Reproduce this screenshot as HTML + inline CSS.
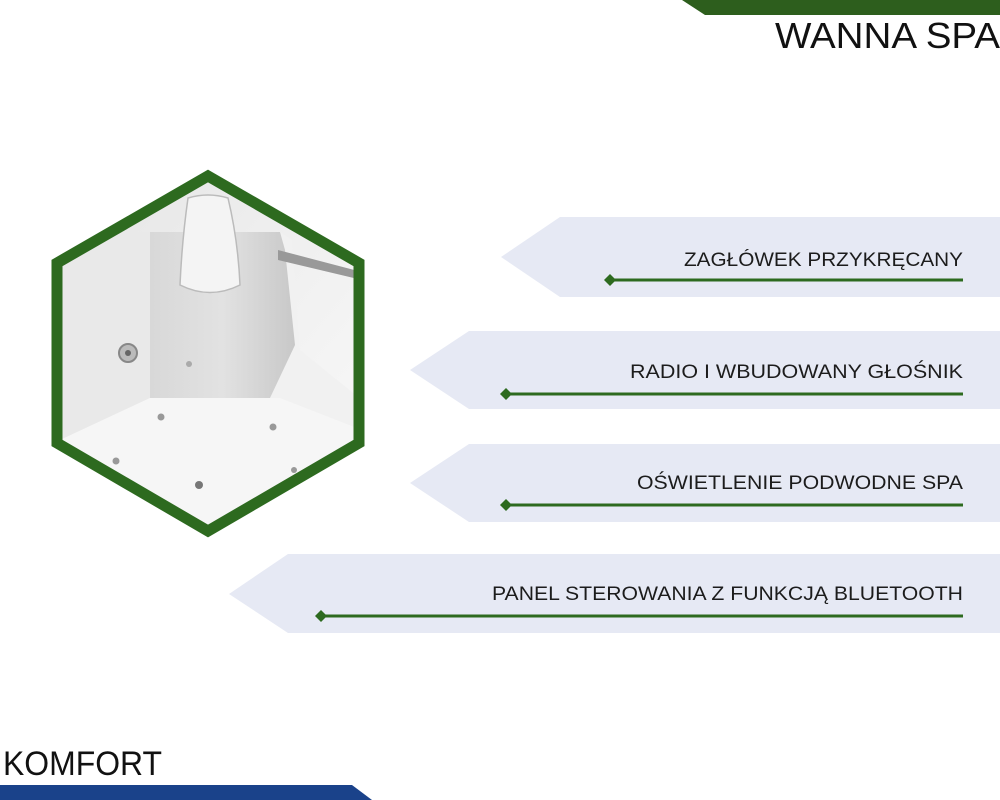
<!DOCTYPE html>
<html><head><meta charset="utf-8"><style>
html,body{margin:0;padding:0;background:#fff;width:1000px;height:800px;overflow:hidden}
text{font-family:"Liberation Sans",sans-serif}
</style></head><body>
<svg width="1000" height="800" viewBox="0 0 1000 800" xmlns="http://www.w3.org/2000/svg">
<defs>
<clipPath id="hx"><polygon points="208,176 359,263 359,443 208,531 57,443 57,263"/></clipPath>
<linearGradient id="bg" x1="0" y1="0" x2="1" y2="1">
<stop offset="0" stop-color="#e4e4e4"/><stop offset="0.5" stop-color="#f0f0f0"/><stop offset="1" stop-color="#fafafa"/></linearGradient>
<linearGradient id="back" x1="0" y1="0" x2="1" y2="0">
<stop offset="0" stop-color="#d8d8d8"/><stop offset="0.5" stop-color="#e2e2e2"/><stop offset="1" stop-color="#c8c8c8"/></linearGradient>
</defs>
<!-- top bar -->
<polygon points="682,0 1000,0 1000,15 705,15" fill="#2d5e1d"/>
<text x="1000" y="48" font-size="36" text-anchor="end" textLength="225" lengthAdjust="spacingAndGlyphs" fill="#111">WANNA SPA</text>
<!-- bottom bar -->
<polygon points="0,785 352,785 372,800 0,800" fill="#1a428a"/>
<text x="3" y="775" font-size="34" textLength="159" lengthAdjust="spacingAndGlyphs" fill="#111">KOMFORT</text>
<!-- hexagon image -->
<g clip-path="url(#hx)">
<rect x="50" y="170" width="320" height="370" fill="url(#bg)"/>
<polygon points="120,232 280,232 292,240 300,350 362,400 362,540 50,540 50,330" fill="#f1f1f1"/>
<polygon points="150,232 280,232 285,250 295,345 270,398 150,398" fill="url(#back)"/>
<polygon points="60,232 150,232 150,398 60,440" fill="#e9e9e9"/>
<polygon points="150,398 280,398 362,430 362,540 60,540 60,440" fill="#f6f6f6"/>
<path d="M188,198 Q208,192 228,198 Q238,240 240,285 Q210,300 180,285 Q182,240 188,198Z" fill="#f4f4f4" stroke="#bbb" stroke-width="1.5"/>
<path d="M278,250 L362,272 L362,280 L278,260Z" fill="#999"/>
<circle cx="128" cy="353" r="9" fill="#bbb" stroke="#888" stroke-width="2"/>
<circle cx="128" cy="353" r="3" fill="#666"/>
<circle cx="189" cy="364" r="3" fill="#aaa"/>
<circle cx="161" cy="417" r="3.5" fill="#999"/>
<circle cx="273" cy="427" r="3.5" fill="#999"/>
<circle cx="116" cy="461" r="3.5" fill="#999"/>
<circle cx="199" cy="485" r="4" fill="#777"/>
<circle cx="294" cy="470" r="3" fill="#999"/>
</g>
<polygon points="208,176 359,263 359,443 208,531 57,443 57,263" fill="none" stroke="#2d6a1f" stroke-width="11"/>
<!-- banners -->
<g fill="#e6e9f4">
<polygon points="501,257 560,217 1000,217 1000,297 560,297"/>
<polygon points="410,370 469,331 1000,331 1000,409 469,409"/>
<polygon points="410,483 469,444 1000,444 1000,522 469,522"/>
<polygon points="229,594 288,554 1000,554 1000,633 288,633"/>
</g>
<g stroke="#2d6a1f" stroke-width="3">
<line x1="610" y1="280" x2="963" y2="280"/>
<line x1="506" y1="394" x2="963" y2="394"/>
<line x1="506" y1="505" x2="963" y2="505"/>
<line x1="321" y1="616" x2="963" y2="616"/>
</g>
<g fill="#2d6a1f">
<polygon points="610,274 616,280 610,286 604,280"/>
<polygon points="506,388 512,394 506,400 500,394"/>
<polygon points="506,499 512,505 506,511 500,505"/>
<polygon points="321,610 327,616 321,622 315,616"/>
</g>
<g font-size="19" fill="#1c1c1c" text-anchor="end">
<text x="963" y="266" textLength="279" lengthAdjust="spacingAndGlyphs">ZAGŁÓWEK PRZYKRĘCANY</text>
<text x="963" y="378" textLength="333" lengthAdjust="spacingAndGlyphs">RADIO I WBUDOWANY GŁOŚNIK</text>
<text x="963" y="489" textLength="326" lengthAdjust="spacingAndGlyphs">OŚWIETLENIE PODWODNE SPA</text>
<text x="963" y="600" textLength="471" lengthAdjust="spacingAndGlyphs">PANEL STEROWANIA Z FUNKCJĄ BLUETOOTH</text>
</g>
</svg>
</body></html>
